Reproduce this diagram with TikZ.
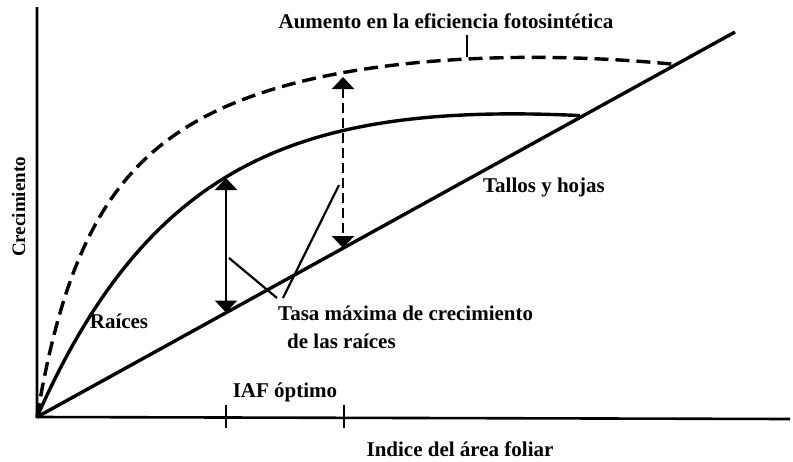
\documentclass[tikz,border=0pt]{standalone}
\usepackage{fontspec}
\setmainfont{Liberation Serif}
\usetikzlibrary{arrows.meta}
\begin{document}
\begin{tikzpicture}[x=1pt,y=-1pt,
        curva/.style={line width=3.4pt,line join=round},
        eje/.style={line width=2.6pt},
        flecha/.style={line width=2.4pt,{Triangle[width=22pt,length=12pt]}-{Triangle[width=22pt,length=12pt]}},
        guia/.style={line width=2.2pt},
        rotulo/.style={font=\bfseries\fontsize{21}{25}\selectfont,inner sep=0pt,anchor=base}]
    \useasboundingbox (0,0) rectangle (793,461);

    \coordinate (O) at (37,417);
    \coordinate (ytop) at (37,7);
    \coordinate (xend) at (790,419);
    \coordinate (lend) at (735,32);
    \coordinate (s1) at (226,178); \coordinate (l1) at (226,312.5);
    \coordinate (d1) at (343,77); \coordinate (l2) at (343,248);
    \coordinate (k1) at (226,405); \coordinate (k2) at (344,405);
    \coordinate (aumt) at (467,57);
    \coordinate (t1) at (229,258); \coordinate (t1e) at (277,298);
    \coordinate (t2) at (339,185); \coordinate (t2e) at (283,298);

    \node[rotulo] (aum) at (446,28) {Aumento en la eficiencia fotosintética};
    \node[rotulo] (tallos) at (544,192) {Tallos y hojas};
    \node[rotulo] (raices) at (119,328) {Raíces};
    \node[rotulo,anchor=base west] (tasa1) at (278,320) {Tasa máxima de crecimiento};
    \node[rotulo,anchor=base west] (tasa2) at (287,348) {de las raíces};
    \node[rotulo] (iaf) at (285,397) {IAF óptimo};
    \node[rotulo,font=\bfseries\fontsize{19}{23}\selectfont,rotate=90] (crec) at (25,207) {Crecimiento};
    \node[rotulo] (indice) at (460,456) {Indice del área foliar};

    % ejes
    \draw[eje] (ytop) -- (O) -- (xend);
    \draw[eje] (k1) -- ++(0,23); \draw[eje] (k2) -- ++(0,23);

    % tallos y hojas, raices, eficiencia
    \draw[curva] (O) -- (lend);
    \draw[curva] plot[domain=0:543,samples=90,smooth] ({\x+37},{417-(340*(1-exp(-\x/150))-(\x/100)^2)});
    \draw[curva,dash pattern=on 14pt off 7pt] plot[domain=0:640,samples=120,smooth]
        ({\x+37},{417-(430*(\x/(\x+72))-0.13*(\x/100)^3)});

    \draw[flecha] (s1) -- (l1);
    \draw[flecha,dash pattern=on 10pt off 5pt] (d1) -- (l2);

    \draw[guia] ([yshift=-7pt]aum.south -| aumt) -- (aumt);
    \draw[guia] (t1) -- (t1e); \draw[guia] (t2) -- (t2e);
\end{tikzpicture}
\end{document}
